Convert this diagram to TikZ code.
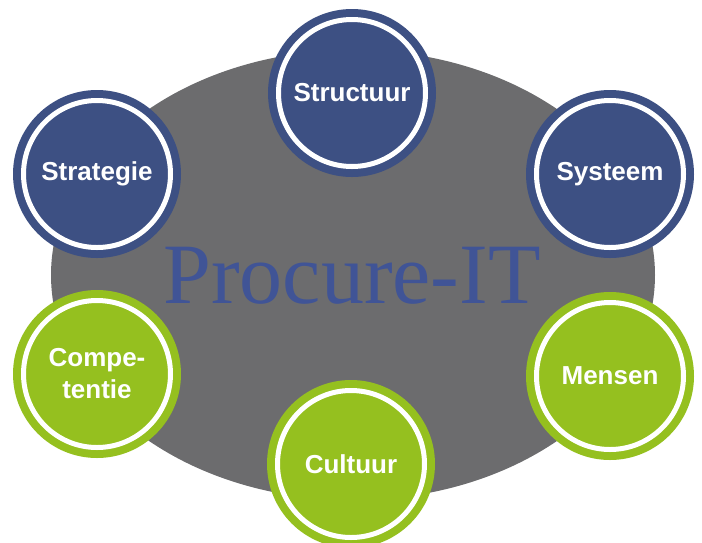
\documentclass[tikz,border=0pt]{standalone}
\usepackage{fontspec}
\setmainfont{Liberation Serif}
\newfontfamily\labelfont{Liberation Sans}
\definecolor{ellgray}{RGB}{108,108,110}
\definecolor{cblue}{RGB}{61,80,131}
\definecolor{cgreen}{RGB}{149,192,31}
\definecolor{tblue}{RGB}{64,84,150}
\tikzset{
  ring/.style={circle, fill=#1, minimum size=168pt, inner sep=0pt, outer sep=0pt,
    text=white, align=center,
    font=\labelfont\bfseries\fontsize{26}{32}\selectfont,
    path picture={\draw[white, line width=5pt] (path picture bounding box.center) circle (73.5pt);}},
  title/.style={text=tblue, font=\fontsize{86}{90}\selectfont, inner sep=0pt}
}
\begin{document}
\begin{tikzpicture}[x=1pt,y=-1pt]
\useasboundingbox (0,0) rectangle (702,542);
\fill[ellgray] (353,275) ellipse [x radius=302, y radius=225];
\node[title, anchor=base] (procure) at (352,303) {Procure-IT};
\node[ring=cblue] (structuur) at (352,93) {Structuur};
\node[ring=cblue] (strategie) at (97,174) {Strategie};
\node[ring=cblue] (systeem) at (610,174) {Systeem};
\node[ring=cgreen] (competentie) at (97,374) {Compe-\\tentie};
\node[ring=cgreen] (mensen) at (610,376) {Mensen};
\node[ring=cgreen] (cultuur) at (351,464) {Cultuur};
\end{tikzpicture}
\end{document}
